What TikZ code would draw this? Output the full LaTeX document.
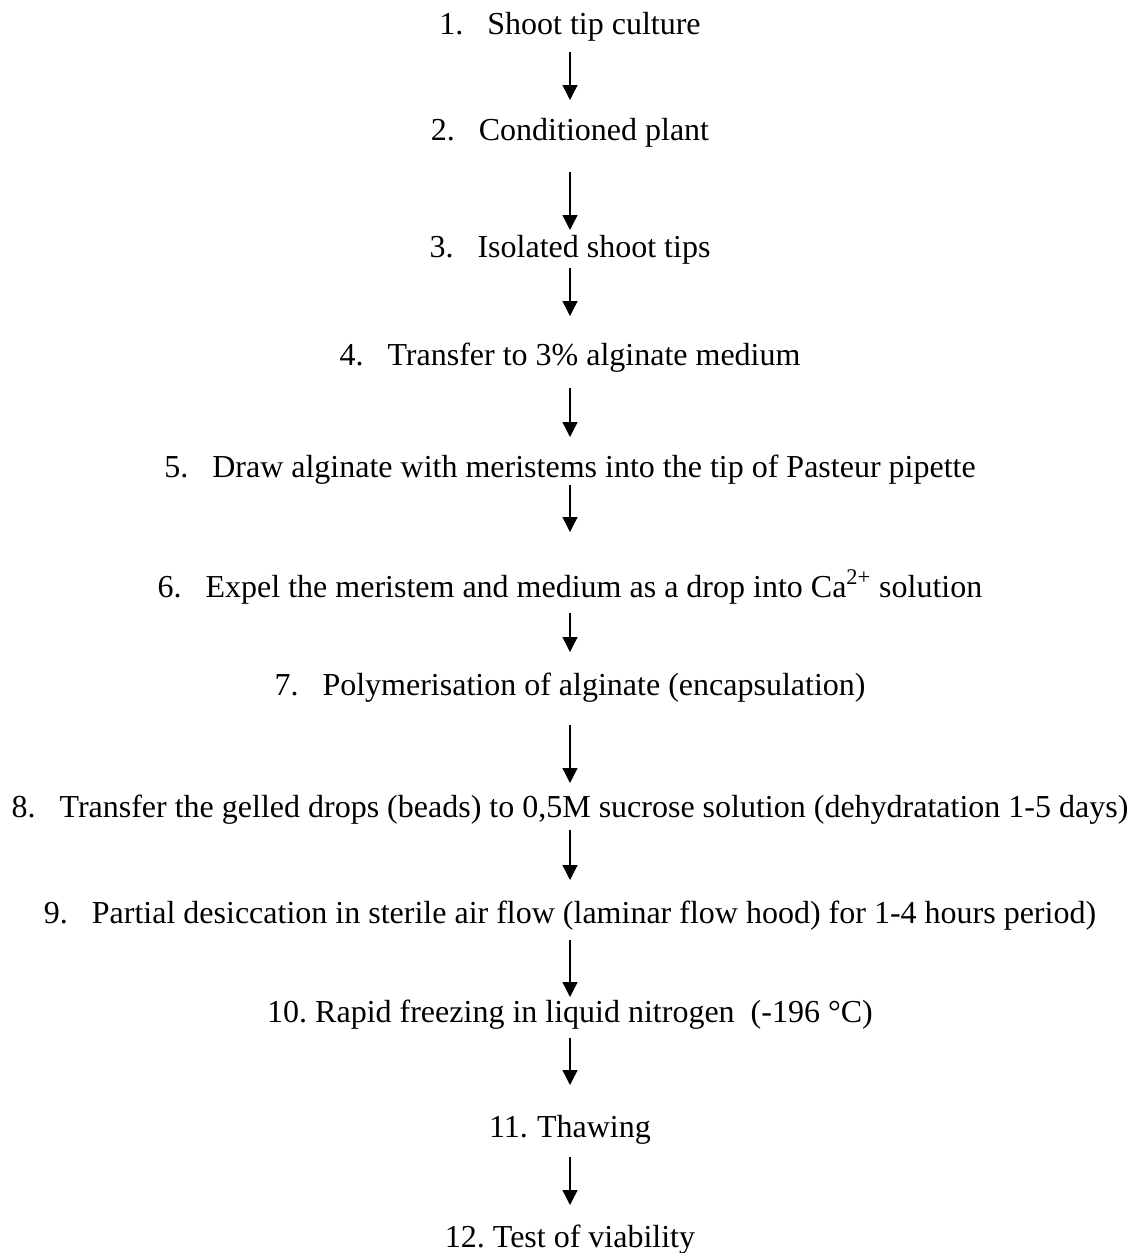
\documentclass[tikz,border=0pt]{standalone}
\usepackage{fontspec}
\setmainfont{Liberation Serif}
\usetikzlibrary{arrows.meta}
\begin{document}
\begin{tikzpicture}[x=0.5pt,y=-0.5pt,
  stepnode/.style={anchor=base,inner sep=0pt,outer sep=0pt,font=\fontsize{16pt}{19pt}\selectfont},
  arr/.style={line width=0.65pt,-{Triangle[length=7.5pt,width=7.5pt]}}]
\useasboundingbox (0,0) rectangle (1140,1253);
\newcommand{\num}[1]{\makebox[1.5em][l]{#1}}
\node[stepnode] (s1)  at (570,34)   {\num{1.}Shoot tip culture};
\node[stepnode] (s2)  at (570,140)  {\num{2.}Conditioned plant};
\node[stepnode] (s3)  at (570,257)  {\num{3.}Isolated shoot tips};
\node[stepnode] (s4)  at (570,365)  {\num{4.}Transfer to 3\% alginate medium};
\node[stepnode] (s5)  at (570,477)  {\num{5.}Draw alginate with meristems into the tip of Pasteur pipette};
\node[stepnode] (s6)  at (570,597)  {\num{6.}Expel the meristem and medium as a drop into Ca\textsuperscript{2+} solution};
\node[stepnode] (s7)  at (570,695)  {\num{7.}Polymerisation of alginate (encapsulation)};
\node[stepnode] (s8)  at (570,817)  {\num{8.}Transfer the gelled drops (beads) to 0,5M sucrose solution (dehydratation 1-5 days)};
\node[stepnode] (s9)  at (570,923)  {\num{9.}Partial desiccation in sterile air flow (laminar flow hood) for 1-4 hours period)};
\node[stepnode] (s10) at (570,1022) {\num{10.}Rapid freezing in liquid nitrogen\ \ (-196 °C)};
\node[stepnode] (s11) at (570,1137) {\num{11.}Thawing};
\node[stepnode] (s12) at (570,1247) {\num{12.}Test of viability};
\draw[arr] ([yshift=-9pt]s1.base)   -- ([yshift=20pt]s2.base);
\draw[arr] ([yshift=-16pt]s2.base)  -- ([yshift=13.5pt]s3.base);
\draw[arr] ([yshift=-5.5pt]s3.base) -- ([yshift=24.5pt]s4.base);
\draw[arr] ([yshift=-11.5pt]s4.base)-- ([yshift=20pt]s5.base);
\draw[arr] ([yshift=-4pt]s5.base)   -- ([yshift=32.5pt]s6.base);
\draw[arr] ([yshift=-8pt]s6.base)   -- ([yshift=21.5pt]s7.base);
\draw[arr] ([yshift=-15pt]s7.base)  -- ([yshift=17pt]s8.base);
\draw[arr] ([yshift=-6.5pt]s8.base) -- ([yshift=21.5pt]s9.base);
\draw[arr] ([yshift=-8.5pt]s9.base) -- ([yshift=12.5pt]s10.base);
\draw[arr] ([yshift=-8pt]s10.base)  -- ([yshift=26pt]s11.base);
\draw[arr] ([yshift=-10pt]s11.base) -- ([yshift=21pt]s12.base);
\end{tikzpicture}
\end{document}
